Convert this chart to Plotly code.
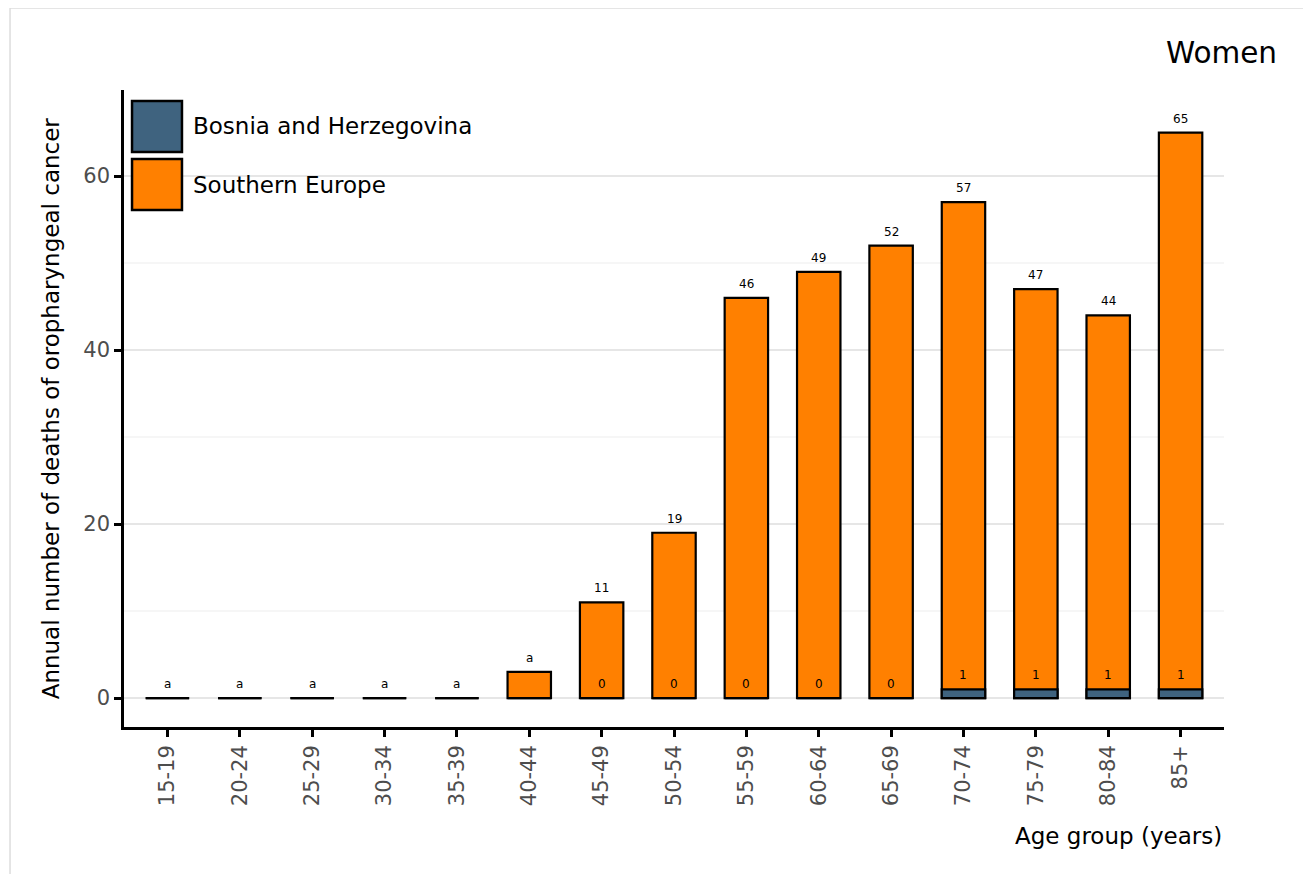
import plotly.graph_objects as go

age_groups = ["15-19", "20-24", "25-29", "30-34", "35-39", "40-44", "45-49",
              "50-54", "55-59", "60-64", "65-69", "70-74", "75-79", "80-84", "85+"]
southern_europe = [0, 0, 0, 0, 0, 3, 11, 19, 46, 49, 52, 57, 47, 44, 65]
southern_labels = ["a", "a", "a", "a", "a", "a", "11", "19", "46", "49", "52", "57", "47", "44", "65"]
bosnia = [0, 0, 0, 0, 0, 0, 0, 0, 0, 0, 0, 1, 1, 1, 1]
bosnia_labels = ["", "", "", "", "", "", "0", "0", "0", "0", "0", "1", "1", "1", "1"]

series_names = ["Bosnia and Herzegovina", "Southern Europe"]
series_colors = ["#3F637F", "#FF8000"]

FONT = "DejaVu Sans"

fig = go.Figure()
fig.add_trace(go.Bar(x=age_groups, y=southern_europe, name=series_names[1], width=0.6,
                     marker=dict(color=series_colors[1], line=dict(color="black", width=2.2)),
                     showlegend=False))
fig.add_trace(go.Bar(x=age_groups, y=bosnia, name=series_names[0], width=0.6,
                     marker=dict(color=series_colors[0], line=dict(color="black", width=2.2)),
                     showlegend=False))

annotations = []
for cat, val, lab in zip(age_groups, southern_europe, southern_labels):
    if lab:
        annotations.append(dict(x=cat, y=val, xref="x", yref="y", text=lab, showarrow=False,
                                yshift=14, yanchor="middle",
                                font=dict(family=FONT, size=12, color="black")))
for cat, val, lab in zip(age_groups, bosnia, bosnia_labels):
    if lab:
        annotations.append(dict(x=cat, y=val, xref="x", yref="y", text=lab, showarrow=False,
                                yshift=14, yanchor="middle",
                                font=dict(family=FONT, size=12, color="black")))

# axis titles
annotations.append(dict(x=1.0, y=-0.171, xref="paper", yref="paper", text="Age group (years)",
                        showarrow=False, xanchor="right", yanchor="middle",
                        font=dict(family=FONT, size=23, color="black")))
annotations.append(dict(x=-0.0665, y=0.5, xref="paper", yref="paper",
                        text="Annual number of deaths of oropharyngeal cancer",
                        showarrow=False, textangle=-90, xanchor="center", yanchor="middle",
                        font=dict(family=FONT, size=23, color="black")))
# panel title
annotations.append(dict(x=1.05, y=1.058, xref="paper", yref="paper", text="Women",
                        showarrow=False, xanchor="right", yanchor="middle",
                        font=dict(family=FONT, size=29.5, color="black")))

# legend (custom, large swatches)
shapes = []
leg_y = [(0.9827, 0.9027, 0.9435), (0.8917, 0.8116, 0.8509)]
for (y1, y0, yc), name, col in zip(leg_y, series_names, series_colors):
    shapes.append(dict(type="rect", xref="paper", yref="paper", x0=0.0073, x1=0.0527,
                       y0=y0, y1=y1, fillcolor=col, line=dict(color="black", width=2.5)))
    annotations.append(dict(x=0.0612, y=yc, xref="paper", yref="paper", text=name,
                            showarrow=False, xanchor="left", yanchor="middle",
                            font=dict(family=FONT, size=23, color="black")))

# page frame
shapes.append(dict(type="rect", xref="paper", yref="paper", x0=-0.1036, x1=1.5,
                   y0=-0.5, y1=1.1287, line=dict(color="#dddddd", width=1.5),
                   fillcolor="rgba(0,0,0,0)", layer="below"))

fig.update_layout(
    width=1311, height=874,
    margin=dict(l=116, r=95, t=82, b=155),
    barmode="overlay",
    plot_bgcolor="white", paper_bgcolor="white",
    font=dict(family=FONT),
    annotations=annotations,
    shapes=shapes,
    showlegend=False,
)
fig.update_xaxes(
    type="category", range=[-0.6, 14.6],
    showline=True, linecolor="black", linewidth=2.5,
    ticks="outside", ticklen=7, tickwidth=2.5, tickcolor="black",
    tickangle=-90, tickfont=dict(family=FONT, size=21, color="#4d4d4d"),
    showgrid=False, zeroline=False,
)
fig.update_yaxes(
    range=[-3.33, 69.9],
    tickvals=[0, 20, 40, 60],
    showline=True, linecolor="black", linewidth=2.5,
    ticks="outside", ticklen=7, tickwidth=2.5, tickcolor="black",
    tickfont=dict(family=FONT, size=21, color="#4d4d4d"),
    showgrid=True, gridcolor="#e6e6e6", gridwidth=2,
    minor=dict(dtick=10, tick0=0, showgrid=True, gridcolor="#f6f6f6", gridwidth=1.5),
    zeroline=False,
)

fig.write_html("out.html")
